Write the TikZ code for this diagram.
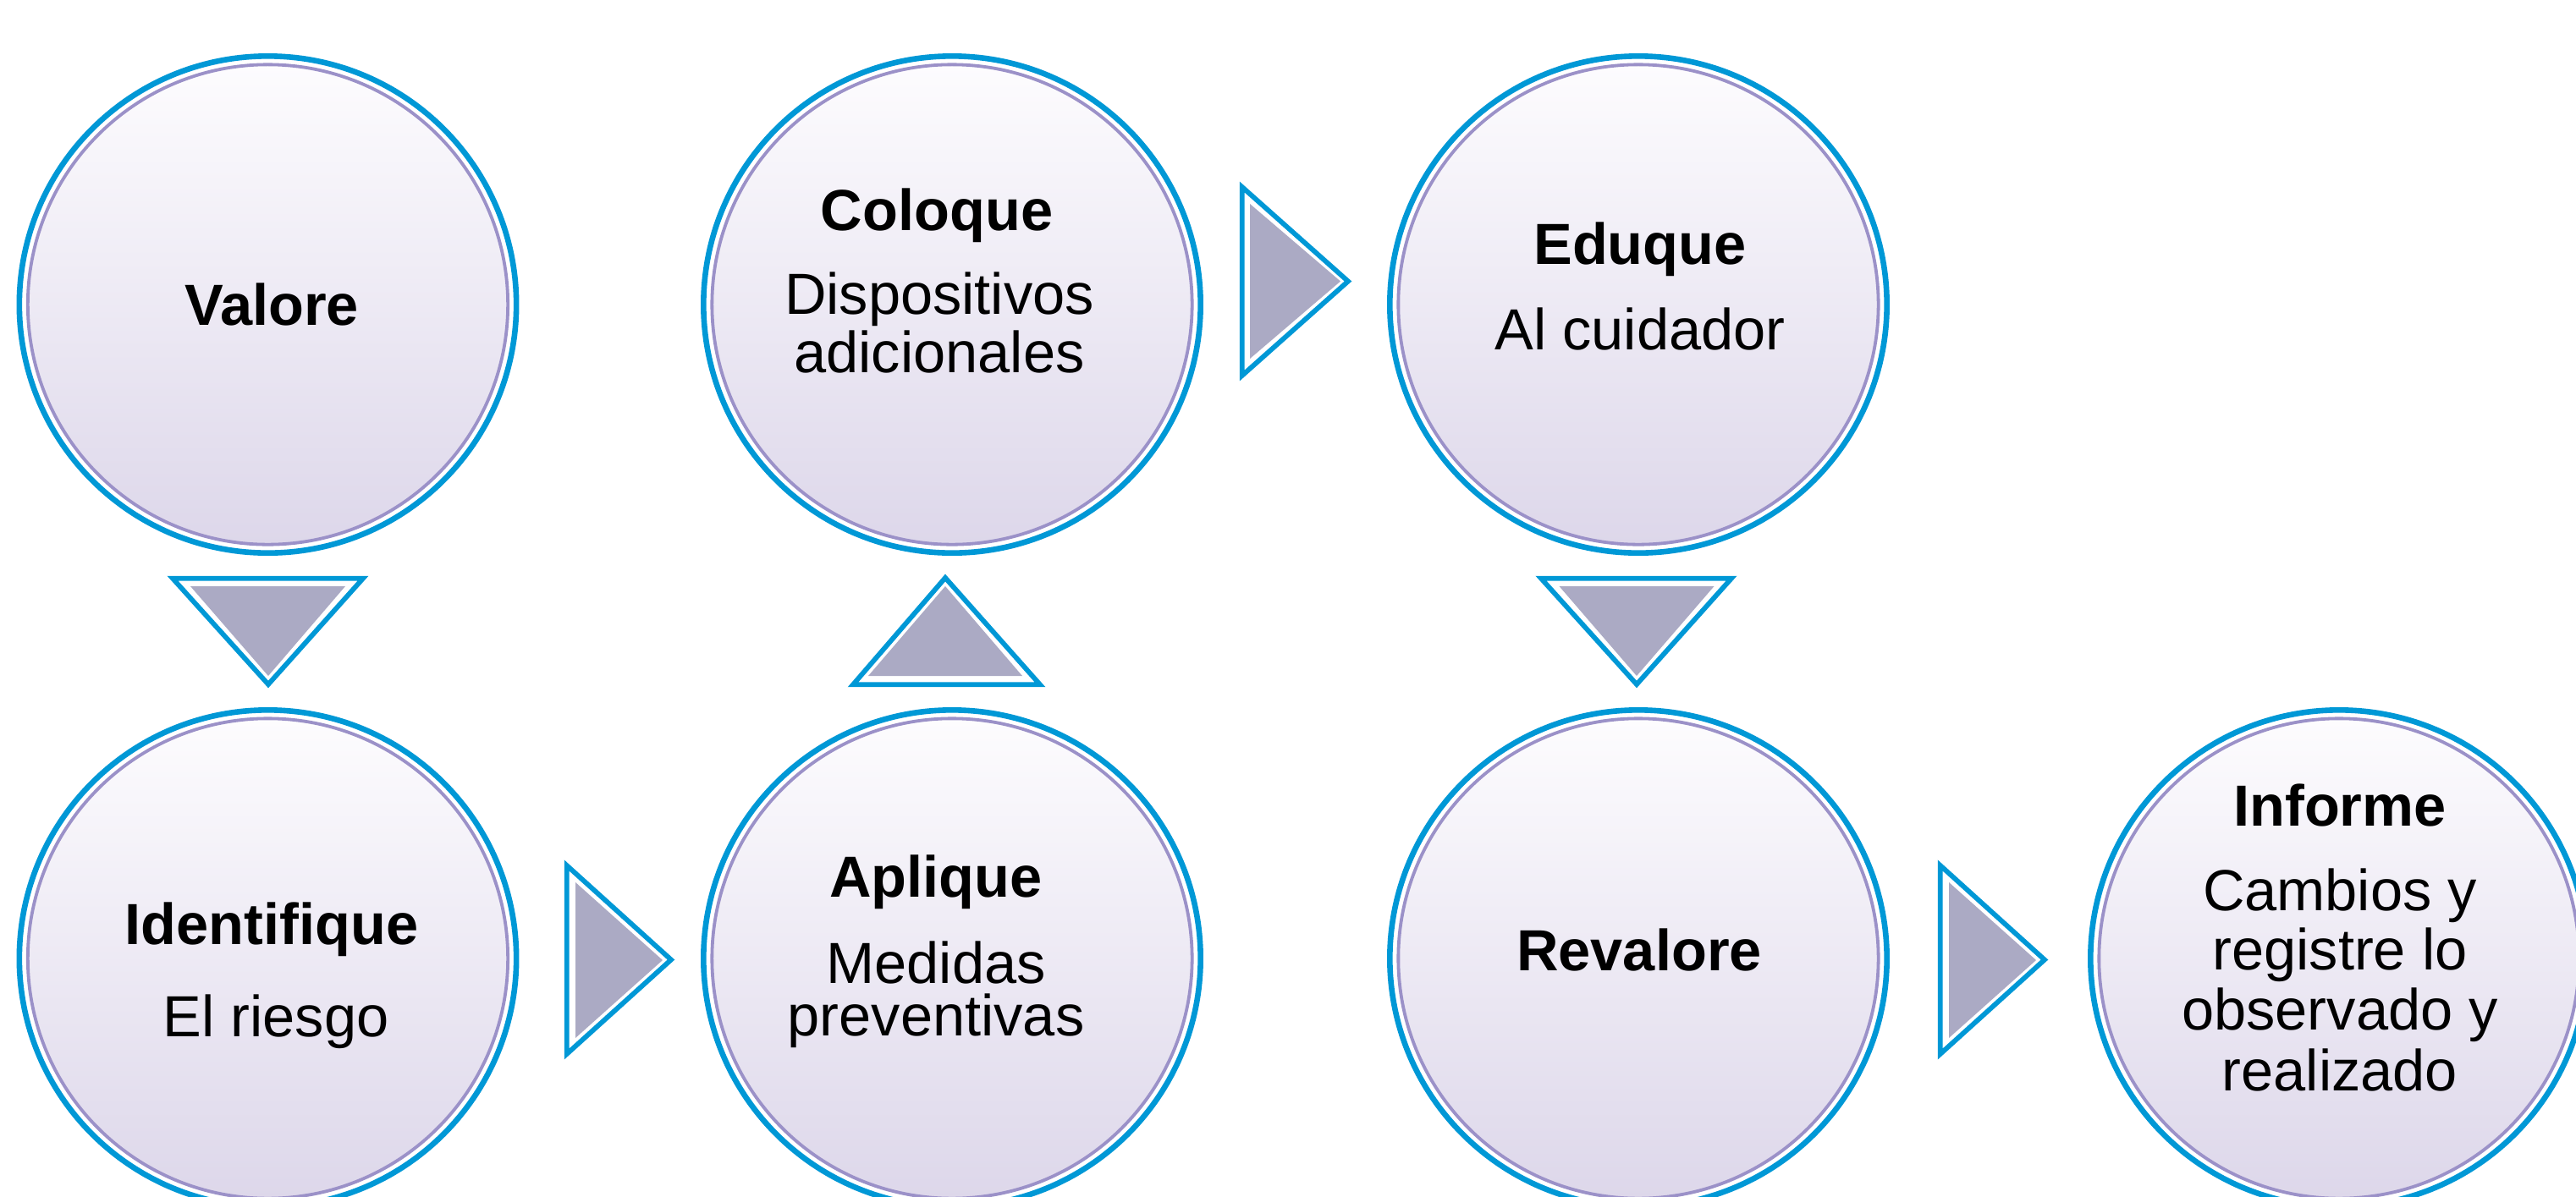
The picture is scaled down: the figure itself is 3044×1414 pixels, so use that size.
\documentclass[tikz,border=0pt]{standalone}
\usepackage{fontspec}
\setmainfont{Liberation Sans}
\definecolor{ringblue}{RGB}{0,152,214}
\definecolor{ringpurple}{RGB}{155,145,200}
\definecolor{trigray}{RGB}{171,170,196}
\definecolor{shadetop}{RGB}{253,252,254}
\definecolor{shadebot}{RGB}{221,215,234}
\tikzset{
  ring/.style={circle, inner sep=0pt, minimum size=5.87cm, draw=ringblue, line width=0.066cm},
  core/.style={circle, inner sep=0pt, minimum size=5.67cm, draw=ringpurple, line width=0.038cm, top color=shadetop, bottom color=shadebot},
  triout/.style={draw=ringblue, line width=0.058cm, line join=miter, fill=white},
  triin/.style={fill=trigray},
  ttl/.style={inner sep=0pt, anchor=base, font=\fontsize{19.5pt}{20pt}\selectfont\bfseries},
  txt/.style={inner sep=0pt, anchor=base, font=\fontsize{19.5pt}{20pt}\selectfont},
}
\begin{document}
\begin{tikzpicture}[x=0.01cm,y=-0.01cm]
\useasboundingbox (0,0) rectangle (3044,1414);
\clip (0,0) rectangle (3044,1414);
\fill[white] (0,0) rectangle (3044,1414);
% circles
\foreach \n/\x/\y in {valore/316.5/360, coloque/1125/360, eduque/1936/360, identifique/316.5/1133, aplique/1125/1133, revalore/1936/1133, informe/2764/1133}{
  \node[core] (\n-core) at (\x,\y) {};
  \node[ring] (\n) at (\x,\y) {};
}
% triangles (connectors)
\draw[triout] (204,683.7) -- (429,683.7) -- (317,809) -- cycle;
\fill[triin] (225,693) -- (408,693) -- (317,799) -- cycle;
\draw[triout] (669.7,1023) -- (669.7,1246) -- (793,1134.5) -- cycle;
\fill[triin] (680,1043) -- (680,1227) -- (783,1135) -- cycle;
\draw[triout] (1008,809.3) -- (1229,809.3) -- (1117,683) -- cycle;
\fill[triin] (1026,799) -- (1208,799) -- (1117,693) -- cycle;
\draw[triout] (1467.7,221) -- (1467.7,444) -- (1593,332.5) -- cycle;
\fill[triin] (1477,241) -- (1477,424) -- (1584,332.5) -- cycle;
\draw[triout] (1821,683.7) -- (2046,683.7) -- (1934,809) -- cycle;
\fill[triin] (1842.5,693) -- (2025.5,693) -- (1934,799) -- cycle;
\draw[triout] (2292.7,1023) -- (2292.7,1246) -- (2416,1134.5) -- cycle;
\fill[triin] (2303,1043) -- (2303,1227) -- (2406,1135) -- cycle;
% texts
\node[ttl] (t1) at (321,384) {Valore};
\node[ttl] (t2) at (1107,272) {Coloque};
\node[txt] (t2a) at (1110,371) {Dispositivos};
\node[txt] (t2b) at (1110,440) {adicionales};
\node[ttl] (t3) at (1938,312) {Eduque};
\node[txt] (t3a) at (1938,413) {Al cuidador};
\node[ttl] (t4) at (321,1116) {Identifique};
\node[txt] (t4a) at (326,1225) {El riesgo};
\node[ttl] (t5) at (1106,1060) {Aplique};
\node[txt] (t5a) at (1106,1162) {Medidas};
\node[txt] (t5b) at (1106,1224) {preventivas};
\node[ttl] (t6) at (1937,1147) {Revalore};
\node[ttl] (t7) at (2765,976) {Informe};
\node[txt] (t7a) at (2765,1076) {Cambios y};
\node[txt] (t7b) at (2765,1146) {registre lo};
\node[txt] (t7c) at (2765,1217) {observado y};
\node[txt] (t7d) at (2765,1289) {realizado};
\end{tikzpicture}
\end{document}
